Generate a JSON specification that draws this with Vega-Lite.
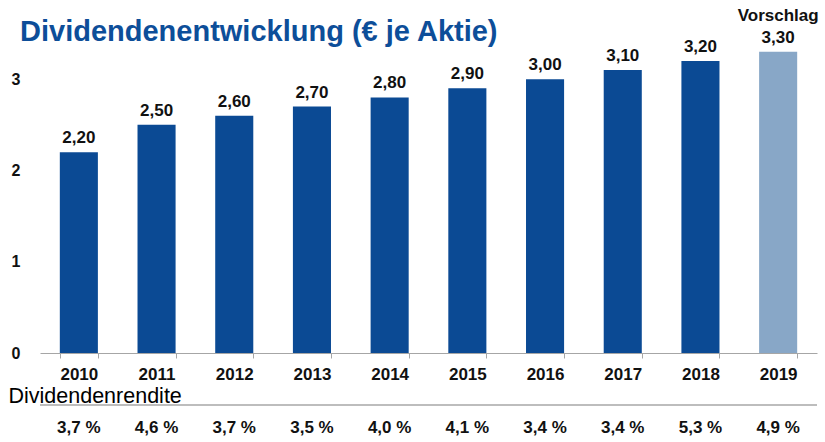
{
  "$schema": "https://vega.github.io/schema/vega-lite/v6.json",
  "autosize": "none",
  "width": 777,
  "height": 442,
  "padding": {"left": 40, "top": 0, "right": 8, "bottom": 0},
  "background": "white",
  "title": {
    "text": "Dividendenentwicklung (€ je Aktie)",
    "anchor": "start",
    "frame": "group",
    "orient": "top",
    "offset": 0,
    "dx": -20,
    "dy": 70,
    "baseline": "alphabetic",
    "font": "Liberation Sans",
    "fontSize": 29,
    "fontWeight": "bold",
    "color": "#0D4E99"
  },
  "config": {
    "view": {"stroke": null},
    "locale": {"number": {"decimal": ",", "thousands": ".", "grouping": [3], "currency": ["", " €"]}},
    "font": "Liberation Sans"
  },
  "data": {
    "values": [
      {"year": "2010", "value": 2.2, "rendite": "3,7 %", "note": "", "type": "Ist"},
      {"year": "2011", "value": 2.5, "rendite": "4,6 %", "note": "", "type": "Ist"},
      {"year": "2012", "value": 2.6, "rendite": "3,7 %", "note": "", "type": "Ist"},
      {"year": "2013", "value": 2.7, "rendite": "3,5 %", "note": "", "type": "Ist"},
      {"year": "2014", "value": 2.8, "rendite": "4,0 %", "note": "", "type": "Ist"},
      {"year": "2015", "value": 2.9, "rendite": "4,1 %", "note": "", "type": "Ist"},
      {"year": "2016", "value": 3.0, "rendite": "3,4 %", "note": "", "type": "Ist"},
      {"year": "2017", "value": 3.1, "rendite": "3,4 %", "note": "", "type": "Ist"},
      {"year": "2018", "value": 3.2, "rendite": "5,3 %", "note": "", "type": "Ist"},
      {"year": "2019", "value": 3.3, "rendite": "4,9 %", "note": "Vorschlag", "type": "Vorschlag"}
    ]
  },
  "layer": [
    {
      "mark": {"type": "bar"},
      "encoding": {
        "x": {
          "field": "year",
          "type": "ordinal",
          "scale": {"paddingInner": 0.51, "paddingOuter": 0.255},
          "axis": {
            "offset": -89,
            "title": "Dividendenrendite",
            "titleX": -32,
            "titleY": 49,
            "titleAlign": "left",
            "titleBaseline": "alphabetic",
            "titleFontSize": 21.5,
            "titleFontWeight": "normal",
            "titleColor": "#000000",
            "labelAngle": 0,
            "labelFontSize": 17,
            "labelFontWeight": "bold",
            "labelColor": "#111111",
            "labelBaseline": "alphabetic",
            "labelPadding": 21,
            "tickBand": "extent",
            "tickSize": 5,
            "tickColor": "#a6a6a6",
            "domainColor": "#a6a6a6",
            "domainWidth": 1,
            "grid": false
          }
        },
        "y": {
          "field": "value",
          "type": "quantitative",
          "scale": {"domain": [-0.975, 3.868], "nice": false, "zero": true},
          "axis": {
            "title": null,
            "values": [0, 1, 2, 3],
            "format": "d",
            "domain": false,
            "ticks": false,
            "grid": false,
            "labelPadding": 20,
            "labelFontSize": 16,
            "labelFontWeight": "bold",
            "labelColor": "#111111"
          }
        },
        "color": {
          "field": "type",
          "type": "nominal",
          "scale": {"domain": ["Ist", "Vorschlag"], "range": ["#0B4A94", "#88A7C7"]},
          "legend": null
        }
      }
    },
    {
      "mark": {"type": "text", "baseline": "alphabetic", "dy": -9, "fontSize": 17, "fontWeight": "bold", "color": "#111111"},
      "encoding": {
        "x": {"field": "year", "type": "ordinal"},
        "y": {"field": "value", "type": "quantitative"},
        "text": {"field": "value", "type": "quantitative", "format": ".2f"}
      }
    },
    {
      "mark": {"type": "text", "baseline": "alphabetic", "dy": -31, "fontSize": 17, "fontWeight": "bold", "color": "#111111"},
      "encoding": {
        "x": {"field": "year", "type": "ordinal"},
        "y": {"field": "value", "type": "quantitative"},
        "text": {"field": "note", "type": "nominal"}
      }
    },
    {
      "mark": {"type": "rule", "color": "#bdbdbd", "strokeWidth": 2},
      "encoding": {
        "y": {"datum": -0.57, "type": "quantitative"}
      }
    },
    {
      "mark": {"type": "text", "baseline": "alphabetic", "fontSize": 17, "fontWeight": "bold", "color": "#111111"},
      "encoding": {
        "x": {"field": "year", "type": "ordinal"},
        "y": {"datum": -0.877, "type": "quantitative"},
        "text": {"field": "rendite", "type": "nominal"}
      }
    }
  ]
}
